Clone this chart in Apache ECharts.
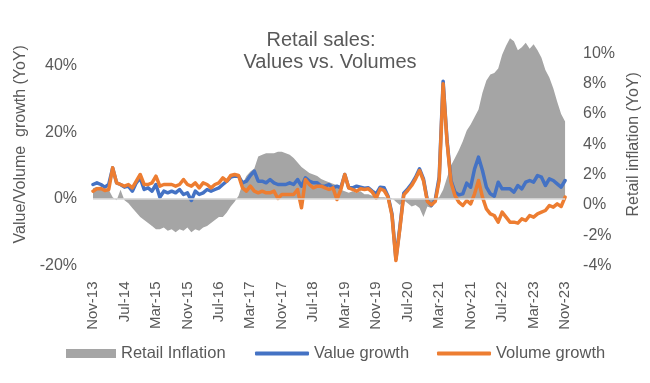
<!DOCTYPE html>
<html><head><meta charset="utf-8">
<script src="https://cdn.jsdelivr.net/npm/echarts@6/dist/echarts.min.js"></script>
<style>html,body{margin:0;padding:0;background:#fff}#c{width:650px;height:383px}</style>
</head><body><div id="c"></div>
<script>
// Category labels: monthly, Nov-13 .. Nov-23
const monthNames = ['Jan','Feb','Mar','Apr','May','Jun','Jul','Aug','Sep','Oct','Nov','Dec'];
const categories = [];
for (let k = 0; k < 121; k++) {
  const m = (10 + k) % 12;
  const y = 13 + Math.floor((10 + k) / 12);
  categories.push(monthNames[m] + '-' + y);
}

// Value growth (YoY, %), left axis
const valueGrowth = [
  4.3,4.8,4.3,3.5,4.3,9.3,4.8,4.3,3.5,3.8,2.3,4.8,6.3,2.8,3.3,2.3,4.3,0.5,2.3,1.8,
  2.3,1.8,2.8,1.3,1.8,-0.5,2.3,1.3,1.8,2.8,2.3,2.8,3.3,4.3,5.3,6.5,
  6.8,6.8,4.8,5.3,7.0,8.3,5.3,5.3,4.8,5.8,4.8,4.3,4.3,4.3,4.8,4.3,5.8,3.8,6.3,5.3,
  4.8,4.8,3.8,3.8,4.3,3.3,3.8,3.3,7.3,3.3,3.3,3.8,3.5,3.2,3.3,2.3,1.5,3.5,3.3,
  0.8,-4.5,-18.0,-8.5,1.7,3.0,4.5,6.5,9.0,6.0,-0.5,-2.0,-0.3,6.5,35.3,17.5,5.5,
  2.0,1.2,1.5,4.7,3.5,9.0,12.5,8.5,3.5,1.5,0.8,5.0,3.0,3.0,3.0,2.0,4.0,3.0,5.0,5.5,
  5.0,7.0,6.5,4.0,6.0,5.5,4.5,3.5,5.5
];

// Volume growth (YoY, %), left axis
const volumeGrowth = [
  2.3,3.0,3.1,2.5,2.8,9.3,4.8,4.3,3.8,4.3,3.3,5.3,7.3,4.3,4.3,4.8,6.8,3.8,4.3,4.3,
  4.3,3.8,4.3,5.8,4.3,3.8,4.8,3.3,4.8,4.3,3.3,4.3,4.8,6.3,5.3,7.0,
  7.3,7.0,3.3,2.3,3.8,2.3,1.8,2.3,1.8,1.8,2.3,0.1,1.3,1.3,1.3,1.3,2.8,-2.7,5.8,4.3,
  3.3,3.8,3.8,3.3,2.8,3.3,-0.2,2.8,7.3,3.3,2.8,2.3,3.0,2.8,3.0,2.0,0.2,3.0,2.5,
  0.5,-5.0,-18.5,-9.0,1.2,2.5,4.0,6.0,8.5,5.5,-0.8,-1.8,-0.8,5.5,34.5,17.0,5.0,
  1.0,-1.0,-2.0,-0.5,-1.5,1.5,5.5,0.5,-3.0,-4.5,-5.0,-7.0,-4.0,-5.5,-7.0,-7.0,-7.3,-6.0,-6.5,-5.0,
  -5.5,-4.5,-4.0,-3.5,-2.0,-2.5,-1.5,-2.3,0.5
];

// Retail inflation (YoY, %), right axis
const retailInflation = [
  1.1,1.2,1.1,1.0,1.0,0.5,0.3,1.0,0.3,0.1,-0.2,-0.5,-0.8,-1.0,-1.2,-1.4,-1.6,-1.6,-1.5,-1.7,
  -1.6,-1.8,-1.6,-1.7,-1.5,-1.8,-1.6,-1.7,-1.5,-1.4,-1.2,-1.0,-0.8,-0.8,-0.5,-0.1,
  0.2,0.6,1.4,1.9,2.2,2.4,3.2,3.3,3.4,3.4,3.4,3.5,3.5,3.4,3.3,3.1,2.8,2.5,2.3,2.1,
  2.0,1.9,1.7,1.6,1.5,1.4,1.3,1.0,0.9,0.8,0.9,0.8,0.9,0.7,0.7,0.6,0.55,0.5,0.5,
  0.45,0.45,0.2,0.0,0.3,0.1,-0.1,0.0,-0.2,-0.8,-0.1,-0.2,0.4,
  0.5,1.0,1.8,2.6,3.1,3.6,4.2,4.9,5.3,5.8,6.3,7.4,8.2,8.6,8.7,9.0,9.9,10.5,11.0,10.8,
  10.2,10.4,10.7,10.3,10.6,10.2,9.7,8.9,8.4,7.7,6.8,6.0,5.5
];

const FONT = 'Liberation Sans';
const TXT = '#595959';
const chart = echarts.init(document.getElementById('c'), null, {renderer: 'canvas'});
chart.setOption({
  animation: false,
  backgroundColor: '#ffffff',
  textStyle: {fontFamily: FONT, color: TXT},
  title: [
    {text: 'Retail sales:', left: 316, textAlign: 'center', top: 25,
     textStyle: {fontFamily: FONT, fontSize: 20, fontWeight: 'normal', color: TXT}},
    {text: 'Values vs. Volumes', left: 325, textAlign: 'center', top: 47,
     textStyle: {fontFamily: FONT, fontSize: 20, fontWeight: 'normal', color: TXT}}
  ],
  grid: {left: 93, right: 83, top: 23, bottom: 117.5, containLabel: false},
  legend: [
    {data: ['Retail Inflation'], left: 61, top: 340, icon: 'rect', itemWidth: 50, itemHeight: 9,
     textStyle: {fontFamily: FONT, fontSize: 16.5, color: TXT}},
    {data: ['Value growth'], left: 250, top: 340, icon: 'roundRect', itemWidth: 54, itemHeight: 4,
     itemGap: 4, textStyle: {fontFamily: FONT, fontSize: 16.5, color: TXT}},
    {data: ['Volume growth'], left: 432, top: 340, icon: 'roundRect', itemWidth: 54, itemHeight: 4,
     textStyle: {fontFamily: FONT, fontSize: 16.5, color: TXT}}
  ],
  xAxis: {
    type: 'category', data: categories, boundaryGap: false,
    axisLine: {show: false}, axisTick: {show: false}, splitLine: {show: false},
    axisLabel: {interval: 7, rotate: 90, fontSize: 15, color: TXT, fontFamily: FONT, margin: 16}
  },
  yAxis: [
    {type: 'value', position: 'left', min: -20, max: 52.75, interval: 20,
     name: 'Value/Volume  growth (YoY)', nameLocation: 'middle', nameRotate: 90, nameGap: 64,
     nameTextStyle: {fontSize: 16, color: TXT, fontFamily: FONT},
     axisLine: {show: false}, axisTick: {show: false}, splitLine: {show: false},
     axisLabel: {formatter: '{value}%', fontSize: 16, color: TXT, fontFamily: FONT, margin: 16, showMaxLabel: false}},
    {type: 'value', position: 'right', min: -4, max: 12, interval: 2,
     name: 'Retail inflation (YoY)', nameLocation: 'middle', nameRotate: 90, nameGap: 58,
     nameTextStyle: {fontSize: 16, color: TXT, fontFamily: FONT},
     axisLine: {show: false}, axisTick: {show: false}, splitLine: {show: false},
     axisLabel: {formatter: '{value}%', fontSize: 16, color: TXT, fontFamily: FONT, margin: 18, showMaxLabel: false}}
  ],
  series: [
    {name: 'Retail Inflation', type: 'line', yAxisIndex: 1, data: retailInflation,
     symbol: 'none', color: '#a5a5a5', lineStyle: {width: 0},
     areaStyle: {color: '#a5a5a5', opacity: 1, origin: 0.40}, z: 1,
     markLine: {silent: true, symbol: 'none', label: {show: false},
       lineStyle: {color: '#d9d9d9', width: 1.5, type: 'solid'}, data: [{yAxis: 0.40}]}},
    {name: 'Value growth', type: 'line', yAxisIndex: 0, data: valueGrowth,
     symbol: 'none', color: '#4472C4', lineStyle: {width: 3.5, color: '#4472C4', join: 'round', cap: 'round'}, z: 3},
    {name: 'Volume growth', type: 'line', yAxisIndex: 0, data: volumeGrowth,
     symbol: 'none', color: '#ED7D31', lineStyle: {width: 3.5, color: '#ED7D31', join: 'round', cap: 'round'}, z: 4}
  ]
});
</script></body></html>
